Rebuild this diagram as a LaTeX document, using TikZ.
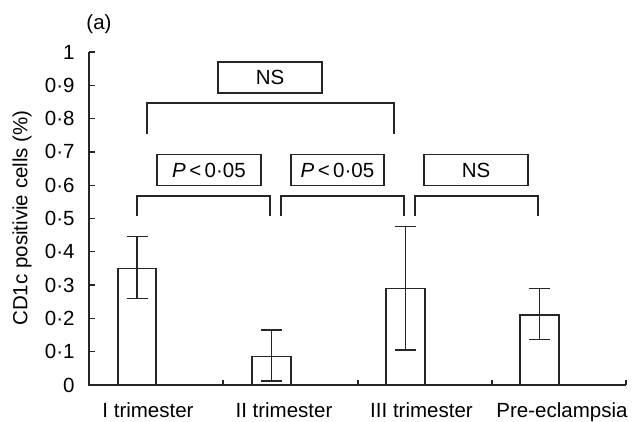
\documentclass[tikz,border=0pt]{standalone}
\usepackage{fontspec}
\setmainfont{Liberation Sans}
\tikzset{
  plotline/.style={line width=0.65pt,draw=black!85},
  sigbox/.style={plotline,minimum height=15.5pt,inner sep=0pt},
  bar/.style={plotline,fill=white}
}
\begin{document}
\begin{tikzpicture}[x=0.5pt,y=-0.5pt,font=\fontsize{10.25}{12}\selectfont]
  \useasboundingbox (0,0) rectangle (632,422);
  \node (panel) at (99,24) {(a)};
  % axes
  \draw[plotline] (89,52) -- (89,385) -- (626,385);
  \foreach \v/\lab in {0/0,1/0·1,2/0·2,3/0·3,4/0·4,5/0·5,6/0·6,7/0·7,8/0·8,9/0·9,10/1} {
    \draw[plotline] (89,385-33.3*\v) -- (95,385-33.3*\v);
    \node[anchor=east,inner sep=0pt] (tick\v) at (75,385-33.3*\v) {\lab};
  }
  \foreach \x in {223,358,492,626}
    \draw[plotline] (\x,385) -- (\x,380);
  \node[rotate=90] (ylab) at (22,218) {CD1c positivie cells (\%)};
  % bars
  \draw[bar] (118,385) rectangle (156,268.4);
  \draw[bar] (252,385) rectangle (291,356.7);
  \draw[bar] (386,385) rectangle (425,288.4);
  \draw[bar] (520,385) rectangle (559,315.1);
  % error bars
  \draw[plotline] (137,236.8) -- (137,298.4) (126.5,236.8) -- (147.5,236.8) (126.5,298.4) -- (147.5,298.4);
  \draw[plotline] (271.5,330.1) -- (271.5,381) (261,330.1) -- (282,330.1) (261,381) -- (282,381);
  \draw[plotline] (405.5,226.8) -- (405.5,350) (395,226.8) -- (416,226.8) (395,350) -- (416,350);
  \draw[plotline] (539.5,288.4) -- (539.5,339.4) (529,288.4) -- (550,288.4) (529,339.4) -- (550,339.4);
  % brackets
  \draw[plotline] (137,216) |- (270,196) -- (270,216);
  \draw[plotline] (281,216) |- (404,196) -- (404,216);
  \draw[plotline] (415,216) |- (538,196) -- (538,216);
  \draw[plotline] (147,134) |- (394,103) -- (394,134);
  \node[sigbox,minimum width=52pt] (nsTop) at (270,77.5) {NS};
  \node[sigbox,minimum width=52pt] (sigA) at (209,170) {\textit{P}\,<\,0·05};
  \node[sigbox,minimum width=46.5pt] (sigB) at (337.5,170) {\textit{P}\,<\,0·05};
  \node[sigbox,minimum width=52pt] (nsB) at (476,170) {NS};
  % group labels
  \node[anchor=base] (grpA) at (148,417) {I trimester};
  \node[anchor=base] (grpB) at (284,417) {II trimester};
  \node[anchor=base] (grpC) at (421.5,417) {III trimester};
  \node[anchor=base] (grpD) at (562,417) {Pre-eclampsia};
\end{tikzpicture}
\end{document}
